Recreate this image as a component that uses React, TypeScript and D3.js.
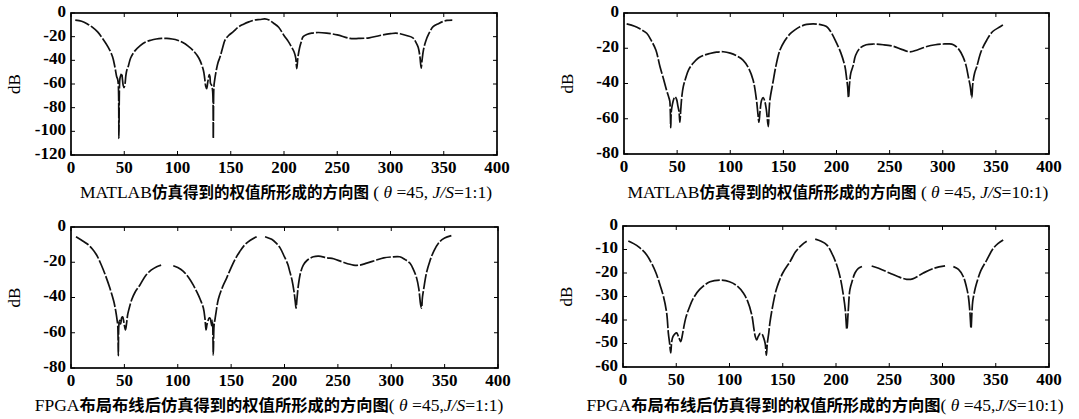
import React from "react";
import * as d3 from "d3";

type Pt = [number, number] | null;

// MATLAB, θ=45, J/S=1:1
const matlab11: Pt[] = [
  [4, -6], [10, -7], [15, -9], [20, -12], [25, -16], [30, -22], [35, -29], [39, -37], [41.3, -46],
  [42.9, -53.8], [43.8, -56], [44.5, -62], [45, -106], [45.5, -62], [46, -55], [47, -52], [47.6, -51],
  [48.3, -56], [49, -61], [49.8, -63], [50.7, -60], [51.5, -53], [52.5, -48], [53.8, -45], [56, -38],
  [60, -32], [65, -27.5], [70, -24.5], [75, -23], [80, -22], [85, -21.5], [90, -21.5], [95, -22],
  [100, -23], [105, -25], [110, -28], [115, -32], [120, -38], [124.2, -48], [125.5, -55], [126.5, -62],
  [127.4, -64], [128.5, -58], [129.9, -52], [130.5, -54], [131, -59.5], [132, -61], [133, -66],
  [133.6, -106], [134.2, -62], [135, -56], [136.5, -48], [138, -42], [140, -37], [142.5, -29],
  [144.6, -23], [148, -19], [152.4, -15.8], [157, -12], [162, -9.5], [167, -7.5], [172, -6],
  [177.5, -5.5], [182, -5], [186, -6], [190, -8.5], [195, -12], [200, -19], [204, -24], [207, -28.6],
  [209.5, -33], [211, -38], [212, -47], [213, -38], [214.5, -30], [216, -25], [218, -20], [222, -18],
  [226, -17], [232, -16.5], [240, -17], [250, -18.5], [262, -21.5], [270, -21.5], [280, -21],
  [290, -19], [300, -17.5], [305, -17], [309, -17.5], [315, -19], [321, -21], [324, -25], [326, -29],
  [327.5, -36], [328.8, -46.5], [329.6, -40], [331, -31], [333, -24], [336, -17.5], [340, -11.6],
  [345, -9], [349, -7.3], [353, -6.3], [358, -6],
];

// MATLAB, θ=45, J/S=10:1
const matlab101: Pt[] = [
  [2.5, -6.2], [10, -7.5], [15, -9], [21.4, -11.5], [26, -16], [30, -21], [33.9, -30.5], [37, -37],
  [40, -43.7], [42, -47.5], [43.1, -50], [43.6, -56], [44, -65], [44.5, -56], [45.5, -52],
  [47, -48.5], [48, -47.5], [49.5, -49], [50.8, -53], [51.8, -56], [52.6, -62], [53.4, -55],
  [54.5, -47], [55.8, -41.8], [58, -37], [61, -32], [65, -28.5], [70, -25.5], [75, -24],
  [80.7, -23], [87, -22.2], [93.5, -22], [100, -22.8], [106, -24.3], [112, -26.7], [117, -31],
  [121.5, -38], [124.6, -49], [126, -57], [127, -62], [128, -56], [129.5, -49.5], [131, -48],
  [132.5, -50], [134, -55], [135.8, -64.5], [136.5, -56], [137.4, -49], [140, -40], [143, -30],
  [146.8, -21], [151, -16], [156, -12], [160, -10], [165.6, -7.8], [172, -6.5], [178, -6.2],
  [184, -6.5], [190.6, -7.7], [195, -11], [200, -17], [204, -22.5], [208, -30.5], [209.5, -37],
  [210.5, -42], [211.3, -48], [212.3, -40], [213.5, -34], [215.6, -30], [218, -24], [222, -20],
  [228, -18], [234.6, -17.6], [244, -18], [253.5, -18.9], [262, -20.8], [269, -22], [276, -21],
  [285, -19], [293, -18], [300.6, -17.6], [306, -17.5], [310, -18], [315, -20.5], [319, -24.8],
  [322, -30], [324, -36], [326, -42], [327.3, -48], [328.3, -40], [330, -34], [332, -30.5],
  [336, -22], [341.5, -15.3], [347, -10.5], [354, -7.8], [358, -6.2],
];

// FPGA, θ=45, J/S=1:1
const fpga11: Pt[] = [
  [4.7, -5.5], [10, -7.5], [15, -9.5], [20, -12.5], [24, -15.9], [28, -21], [32, -27], [36.5, -34.8],
  [40, -42], [42, -48], [43, -52], [43.8, -56], [44.3, -73], [44.8, -56], [45.5, -53], [46.5, -55],
  [47.5, -51.5], [48.4, -51], [49.5, -54], [51, -58.4], [52, -55], [53, -50], [53.7, -48],
  [57, -41], [60, -37], [64.6, -32.9], [70, -27.5], [75, -24.5], [80.3, -22.5], [85, -21.5], null,
  [95.8, -22], [100, -23], [105, -25], [110, -28.5], [114.6, -33], [118, -37], [121, -41],
  [124, -46], [125.5, -52], [126.5, -58.4], [127.5, -55], [129.6, -51.5], [130.5, -52],
  [131.8, -56], [132.5, -53], [133.3, -72.6], [134, -56], [135, -52], [136, -48], [138, -41],
  [142, -34], [145.8, -29], [150, -23], [154, -18], [158, -14], [163, -10], [168, -7.5],
  [173.9, -5.5], null, [181.8, -5.5], [188, -7], [192, -9], [196, -12], [200, -17], [203, -21],
  [205, -25.4], [207, -30], [209, -37], [210.2, -43], [210.8, -46], [211.8, -40], [213, -33],
  [215, -26], [217.6, -21.6], [221, -19], [227, -16.9], [232, -16.5], [240, -17.5], [246, -18],
  [255, -20], [264.5, -21.6], [270.7, -21.6], [277, -20.5], [285, -19], [293, -17.5], [300, -17],
  [308, -16.9], [313, -18.5], [317.6, -20.6], [321, -24.5], [323.8, -29], [325.8, -35],
  [327.5, -44], [328.4, -46], [329.2, -40], [330.7, -34], [333, -26], [336, -19.7], [340, -13.5],
  [345.4, -8.3], [350, -6.3], [356.3, -4.9],
];

// FPGA, θ=45, J/S=10:1
const fpga101: Pt[] = [
  [5, -6.4], [10, -7.5], [15, -9], [22.3, -12.3], [27, -16], [31, -20], [34.7, -25], [38, -30],
  [41, -37], [42.6, -45.7], [43.8, -50], [44.8, -54], [45.8, -49], [47, -47], [48.5, -46],
  [50.4, -45.5], [52, -47], [54.2, -49.2], [55.5, -47], [56.7, -44], [59, -39], [62, -35],
  [66, -30.8], [72, -27], [81.7, -23.7], [91, -23], [100, -23.7], [106.8, -25.4], [113, -28.5],
  [117, -32], [121, -38], [123, -44], [124.2, -47], [125.5, -48.5], [127, -47], [128.9, -45.7],
  [130.5, -46], [132, -47.5], [133.5, -50], [134.6, -55], [135.5, -50], [136.8, -45.7],
  [138, -41], [141, -33], [144.3, -26.5], [150, -20], [156.8, -15.2], [162, -11], [168, -8],
  [172.5, -6.5], null, [180.5, -5.6], [186, -6.5], [191.3, -8], [196, -11.5], [200.7, -16.6],
  [204, -22], [206.9, -29.4], [208.8, -36], [210.2, -44], [211.5, -36], [213.1, -27], [215.5, -23],
  [217.8, -20], [221, -18], [225.7, -17], null, [233.5, -17], [240, -18], [250.7, -20.1],
  [258, -21.5], [266.4, -22.7], [272, -22.5], [282, -20], [292, -18], [302.4, -17], null,
  [310.2, -17.3], [315, -18.5], [319.6, -21.6], [322.5, -26], [324.3, -30], [325.8, -37],
  [326.8, -43.6], [327.6, -37], [328.4, -32], [330, -28], [332, -24.4], [336, -19], [341.5, -14.5],
  [347.7, -9.5], [352, -7.5], [357, -6],
];

const xTicks = [0, 50, 100, 150, 200, 250, 300, 350, 400];
const yTicks120 = [0, -20, -40, -60, -80, -100, -120];
const yTicks80 = [0, -20, -40, -60, -80];
const yTicks60 = [0, -10, -20, -30, -40, -50, -60];

const capLatin1 = "MATLAB";
const capCjk1 = "仿真得到的权值所形成的方向图";
const capOpen1 = " ( ";
const capLatin2 = "FPGA";
const capCjk2 = "布局布线后仿真得到的权值所形成的方向图";
const capOpen2 = "( ";
const ratio11 = "=1:1)";
const ratio101 = "=10:1)";

interface PanelProps {
  left: number; right: number; top: number; bottom: number;
  yMin: number; yTicks: number[]; data: Pt[];
  capY: number; capX: number; capLatin: string; capCjk: string; capOpen: string;
  capSep: string; capRatio: string; cjkSize: number;
}

const FONT = "'Liberation Serif', 'Noto Sans CJK SC', serif";
const CJK = "'Noto Sans CJK SC', sans-serif";

function Panel(p: PanelProps) {
  const x = d3.scaleLinear().domain([0, 400]).range([p.left, p.right]);
  const y = d3.scaleLinear().domain([p.yMin, 0]).range([p.bottom, p.top]);
  const line = d3
    .line<Pt>()
    .defined((d) => d !== null)
    .x((d) => x((d as [number, number])[0]))
    .y((d) => y((d as [number, number])[1]))
    .curve(d3.curveCatmullRom.alpha(0.5));
  const tl = 4;
  return (
    <g>
      <path d={line(p.data) || ""} fill="none" stroke="#111" strokeWidth={1.7}
        strokeDasharray="15,2" strokeLinejoin="round" />
      {xTicks.map((t) => (
        <g key={"x" + t}>
          <line x1={x(t)} x2={x(t)} y1={p.bottom} y2={p.bottom - tl} stroke="#000" />
          <line x1={x(t)} x2={x(t)} y1={p.top} y2={p.top + tl} stroke="#000" />
          <text x={x(t)} y={p.bottom + 14} textAnchor="middle" dominantBaseline="middle"
            fontSize={17} fontWeight="bold" fontFamily={FONT}>{t}</text>
        </g>
      ))}
      {p.yTicks.map((t) => (
        <g key={"y" + t}>
          <line x1={p.left} x2={p.left + tl} y1={y(t)} y2={y(t)} stroke="#000" />
          <line x1={p.right} x2={p.right - tl} y1={y(t)} y2={y(t)} stroke="#000" />
          <text x={p.left - 5} y={y(t)} textAnchor="end" dominantBaseline="middle"
            fontSize={17} fontWeight="bold" fontFamily={FONT}>{t}</text>
        </g>
      ))}
      <rect x={p.left} y={p.top} width={p.right - p.left} height={p.bottom - p.top}
        fill="none" stroke="#000" strokeWidth={1.7} />
      <text transform={`translate(${p.left - 55},${(p.top + p.bottom) / 2}) rotate(-90)`}
        textAnchor="middle" dominantBaseline="middle" fontSize={17}
        fontFamily={FONT}>dB</text>
      <text x={p.capX} y={p.capY} textAnchor="middle" dominantBaseline="middle" fontSize={17.5}
        fontFamily={FONT}>
        {p.capLatin}
        <tspan fontFamily={CJK} fontWeight="bold" fontSize={p.cjkSize}>{p.capCjk}</tspan>
        {p.capOpen}
        <tspan fontStyle="italic">θ</tspan>
        {" =45," + p.capSep}
        <tspan fontStyle="italic">J/S</tspan>
        {p.capRatio}
      </text>
    </g>
  );
}

export default function App() {
  return (
    <svg width={1079} height={419} style={{ position: "absolute", left: 0, top: 0, background: "#fff" }}>
      <rect width={1079} height={419} fill="#fff" />
      <Panel left={71} right={497} top={13} bottom={155} yMin={-120} yTicks={yTicks120} data={matlab11}
        capX={286} capY={194} capLatin={capLatin1} capCjk={capCjk1} capOpen={capOpen1} capSep=" "
        capRatio={ratio11} cjkSize={15.5} />
      <Panel left={624} right={1049} top={13} bottom={154} yMin={-80} yTicks={yTicks80} data={matlab101}
        capX={838} capY={194} capLatin={capLatin1} capCjk={capCjk1} capOpen={capOpen1} capSep=" "
        capRatio={ratio101} cjkSize={15.5} />
      <Panel left={71} right={498} top={227} bottom={368} yMin={-80} yTicks={yTicks80} data={fpga11}
        capX={269} capY={407} capLatin={capLatin2} capCjk={capCjk2} capOpen={capOpen2} capSep=""
        capRatio={ratio11} cjkSize={16.3} />
      <Panel left={623} right={1049} top={226} bottom={367} yMin={-60} yTicks={yTicks60} data={fpga101}
        capX={825} capY={407} capLatin={capLatin2} capCjk={capCjk2} capOpen={capOpen2} capSep=""
        capRatio={ratio101} cjkSize={16.3} />
    </svg>
  );
}
